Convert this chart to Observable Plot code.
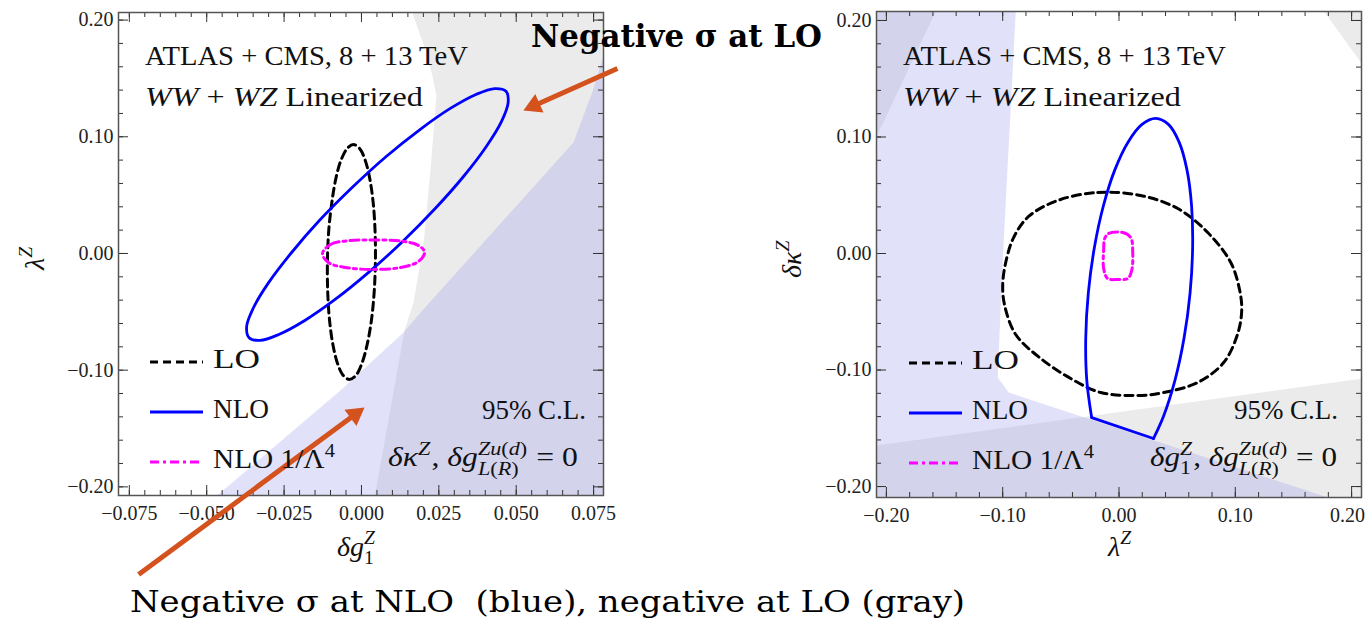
<!DOCTYPE html>
<html><head><meta charset="utf-8">
<script src="https://cdn.jsdelivr.net/npm/d3@7"></script>
<script src="https://cdn.jsdelivr.net/npm/@observablehq/plot@0.6"></script>
<style>
html,body{margin:0;padding:0;background:#fff;}
#wrap{position:relative;width:1367px;height:619px;overflow:hidden;font-family:"Liberation Serif","Times New Roman",serif;}
</style></head><body><div id="wrap"></div>
<script>
// ---------- tick values ----------
const leftXTicks = [-0.075, -0.05, -0.025, 0, 0.025, 0.05, 0.075];
const leftXMinor = d3.range(-0.075, 0.0751, 0.005);
const yTicks = [-0.2, -0.1, 0, 0.1, 0.2];
const yMinor = d3.range(-0.2, 0.2001, 0.02);
const rightXTicks = [-0.2, -0.1, 0, 0.1, 0.2];
const rightXMinor = d3.range(-0.2, 0.2001, 0.02);

// ---------- left panel (x = δg1Z, y = λZ) ----------
const leftGrayRegion = [[0.0146,0.22],[0.0207,0.174],[0.0229,0.1525],[0.0242,0.1354],[0.0223,0.0711],[0.0200,0.0069],[0.0168,-0.042],[0.0139,-0.066],[0.0035,-0.22],[0.09,-0.22],[0.09,0.22]];
const leftBlueRegion = [[-0.0522,-0.22],[-0.0068,-0.1174],[0.0136,-0.0677],[0.0191,-0.0506],[0.0685,0.0951],[0.0749,0.1405],[0.0782,0.1697],[0.09,0.1697],[0.09,-0.22]];
const leftLO = [[-0.0026,0.0934],[-0.0006,0.0900],[0.0012,0.0800],[0.0027,0.0639],[0.0038,0.0431],[0.0044,0.0188],[0.0045,-0.0073],[0.0041,-0.0333],[0.0032,-0.0576],[0.0018,-0.0785],[0.0001,-0.0945],[-0.0018,-0.1045],[-0.0039,-0.1080],[-0.0059,-0.1045],[-0.0077,-0.0945],[-0.0092,-0.0785],[-0.0103,-0.0576],[-0.0109,-0.0333],[-0.0110,-0.0073],[-0.0106,0.0188],[-0.0096,0.0431],[-0.0083,0.0639],[-0.0066,0.0800],[-0.0046,0.0900]];
const leftNLO = [[0.0467,0.1390],[0.0431,0.1413],[0.0370,0.1363],[0.0287,0.1243],[0.0188,0.1060],[0.0079,0.0829],[-0.0031,0.0563],[-0.0136,0.0282],[-0.0227,0.0004],[-0.0300,-0.0250],[-0.0349,-0.0465],[-0.0371,-0.0626],[-0.0363,-0.0722],[-0.0328,-0.0745],[-0.0267,-0.0694],[-0.0183,-0.0574],[-0.0084,-0.0392],[0.0024,-0.0160],[0.0134,0.0105],[0.0239,0.0387],[0.0331,0.0664],[0.0404,0.0919],[0.0453,0.1134],[0.0474,0.1295]];
const leftNLO4 = [[-0.0126,0.0000],[-0.0100,0.0077],[-0.0036,0.0111],[0.0039,0.0116],[0.0126,0.0107],[0.0184,0.0069],[0.0204,0.0009],[0.0184,-0.0069],[0.0126,-0.0120],[0.0039,-0.0137],[-0.0052,-0.0120],[-0.0107,-0.0077]];
const arrows = [
  {x1: 0.0827, y1: 0.1585, x2: 0.0523, y2: 0.1225},
  {x1: -0.0720, y1: -0.2751, x2: 0.0010, y2: -0.1320}
];

// ---------- right panel (x = λZ, y = δκZ) ----------
const rightGrayTL = [[-0.22,0.0757],[-0.1518,0.22],[-0.22,0.22]];
const rightGrayTR = [[0.1674,0.22],[0.22,0.1471],[0.22,0.22]];
const rightGrayBottom = [[-0.22,-0.1664],[0.22,-0.1058],[0.22,-0.22],[-0.22,-0.22]];
const rightBlueRegion = [[-0.0881,0.22],[-0.1000,-0.0060],[-0.1043,-0.1064],[-0.0948,-0.1193],[0.2118,-0.22],[-0.22,-0.22],[-0.22,0.22]];
const rightLO = [[-0.0527,0.0455],[-0.0183,0.0524],[0.0187,0.0498],[0.0505,0.0386],[0.0763,0.0180],[0.0961,-0.0077],[0.1038,-0.0318],[0.1055,-0.0489],[0.1021,-0.0687],[0.0900,-0.0936],[0.0677,-0.1107],[0.0384,-0.1193],[0.0161,-0.1219],[-0.0157,-0.1193],[-0.0415,-0.1073],[-0.0673,-0.0901],[-0.0888,-0.0695],[-0.0983,-0.0446],[-0.1000,-0.0275],[-0.0974,-0.0077],[-0.0906,0.0137],[-0.0777,0.0318]];
const rightNLO = [[0.0296,-0.1588],[0.0382,-0.1398],[0.0481,-0.1088],[0.0559,-0.0727],[0.0611,-0.0339],[0.0633,0.0049],[0.0624,0.0410],[0.0584,0.0720],[0.0516,0.0958],[0.0425,0.1108],[0.0316,0.1159],[0.0198,0.1108],[0.0079,0.0958],[-0.0035,0.0720],[-0.0134,0.0410],[-0.0212,0.0049],[-0.0264,-0.0339],[-0.0286,-0.0727],[-0.0277,-0.1088],[-0.0235,-0.1408]];
const rightNLOEdge = [[-0.0235,-0.1408],[0.0296,-0.1588]];
const rightNLO4 = [[-0.0089,0.0172],[0.0032,0.0180],[0.0101,0.0137],[0.0118,0.0009],[0.0109,-0.0146],[0.0075,-0.0215],[-0.0011,-0.0223],[-0.0097,-0.0215],[-0.0132,-0.0129],[-0.0132,0.0026],[-0.0123,0.0129]];

// ---------- styles ----------
const serif = '"Liberation Serif","Times New Roman",serif';
const GRAY = {fill: "black", fillOpacity: 0.08};
const BLUE = {fill: "rgb(155,155,238)", fillOpacity: 0.3};
const ORANGE = "#d4521e";
const LO_STYLE = {stroke: "black", strokeWidth: 3, strokeDasharray: "8,5"};
const NLO_STYLE = {stroke: "#0000ff", strokeWidth: 2.8};
const NLO4_STYLE = {stroke: "#ff00ff", strokeWidth: 3, strokeDasharray: "9,4,3,4"};
const px = d => d[0], py = d => d[1];
const region = (data, st) => Plot.line(data, {x: px, y: py, curve: "linear-closed", stroke: "none", ...st, clip: true});
const contour = (data, st, curve = "catmull-rom-closed") => Plot.line(data, {x: px, y: py, curve, ...st});

function panel(o) {
  const W = o.width - o.ml - o.mr, H = o.height - o.mt - o.mb;
  const id = d => d, tk = "#333";
  const p = Plot.plot({
    width: o.width, height: o.height,
    marginLeft: o.ml, marginRight: o.mr, marginTop: o.mt, marginBottom: o.mb,
    x: {domain: o.xDomain}, y: {domain: o.yDomain},
    style: {fontFamily: serif, fontSize: "20px", color: "#222", background: "none", overflow: "visible"},
    marks: [
      ...o.marks,
      Plot.tickX(o.xMinor, {x: id, insetTop: H - 5, stroke: tk}),
      Plot.tickX(o.xMajor, {x: id, insetTop: H - 10, stroke: tk}),
      Plot.tickX(o.xMinor, {x: id, insetBottom: H - 5, stroke: tk}),
      Plot.tickX(o.xMajor, {x: id, insetBottom: H - 10, stroke: tk}),
      Plot.tickY(o.yMinor, {y: id, insetRight: W - 5, stroke: tk}),
      Plot.tickY(o.yMajor, {y: id, insetRight: W - 10, stroke: tk}),
      Plot.tickY(o.yMinor, {y: id, insetLeft: W - 5, stroke: tk}),
      Plot.tickY(o.yMajor, {y: id, insetLeft: W - 10, stroke: tk}),
      Plot.frame({stroke: "#555", strokeWidth: 1.5}),
      ...o.xAxes.map(([ticks, dx]) => Plot.axisX(ticks, {anchor: "bottom", tickSize: 0, tickPadding: 10, tickFormat: o.xFmt, label: null, dx})),
      Plot.axisY(o.yMajor, {anchor: "left", tickSize: 0, tickPadding: 5, tickFormat: d3.format(".2f"), label: null}),
      ...(o.over || [])
    ]
  });
  p.style.position = "absolute";
  p.style.left = o.left + "px";
  p.style.top = "0px";
  return p;
}

const wrap = document.getElementById("wrap");

wrap.appendChild(panel({
  left: 0, width: 760, height: 619, ml: 118, mr: 157, mt: 12, mb: 124,
  xDomain: [-0.0785, 0.0782], yDomain: [-0.2074, 0.2065],
  xMajor: leftXTicks, xMinor: leftXMinor, yMajor: yTicks, yMinor: yMinor,
  xAxes: [[leftXTicks, 0]],
  xFmt: d3.format(".3f"),
  marks: [
    region(leftGrayRegion, GRAY),
    region(leftBlueRegion, BLUE),
    contour(leftLO, LO_STYLE),
    contour(leftNLO, NLO_STYLE),
    contour(leftNLO4, NLO4_STYLE)
  ],
  over: [
    Plot.arrow(arrows, {x1: "x1", y1: "y1", x2: "x2", y2: "y2", stroke: ORANGE, strokeWidth: 5, headLength: 0, insetEnd: 11, strokeLinecap: "butt"}),
    Plot.dot([arrows[0]], {x: "x2", y: "y2", symbol: "triangle", r: 7.5, fill: ORANGE, stroke: "none", rotate: -114, dx: 10.7, dy: -4.8}),
    Plot.dot([arrows[1]], {x: "x2", y: "y2", symbol: "triangle", r: 7.5, fill: ORANGE, stroke: "none", rotate: 53.5, dx: -9.4, dy: 6.9})
  ]
}));

wrap.appendChild(panel({
  left: 760, width: 607, height: 619, ml: 116, mr: 6, mt: 11, mb: 122,
  xDomain: [-0.2085, 0.2085], yDomain: [-0.2094, 0.2077],
  xMajor: rightXTicks, xMinor: rightXMinor, yMajor: yTicks, yMinor: yMinor,
  xAxes: [[rightXTicks.slice(0, -1), 0], [rightXTicks.slice(-1), -4]],
  xFmt: d3.format(".2f"),
  marks: [
    region(rightGrayTL, GRAY),
    region(rightGrayTR, GRAY),
    region(rightGrayBottom, GRAY),
    region(rightBlueRegion, BLUE),
    contour(rightLO, LO_STYLE),
    contour(rightNLO, NLO_STYLE, "catmull-rom"),
    contour(rightNLOEdge, NLO_STYLE, "linear"),
    contour(rightNLO4, NLO4_STYLE)
  ]
}));

// ---------- text overlay ----------
const ov = d3.select(wrap).append("svg")
  .attr("width", 1367).attr("height", 619)
  .style("position", "absolute").style("left", "0px").style("top", "0px")
  .style("overflow", "visible")
  .attr("font-family", serif).attr("fill", "#111");

function seg(g, x, y, str, fs, italic) {
  const t = g.append("text").attr("x", x).attr("y", y).attr("font-size", fs)
    .style("white-space", "pre").text(str);
  if (italic) t.attr("font-style", "italic");
  return t.node().getComputedTextLength();
}
function runSegs(g, x, y, segs, fs) {
  let cx = x;
  for (const [s, it] of segs) cx += seg(g, cx, y, s, fs, it);
  return cx - x;
}
function mtext(x, y, pieces, fs = 27, {rot = 0, tw = 0} = {}) {
  const g = ov.append("g");
  let cx = 0;
  for (const p of pieces) {
    if (p.sup || p.sub) {
      const sfs = fs * 0.7;
      const w1 = p.sup ? runSegs(g, cx + (p.shift || 0), -fs * 0.42, p.sup, sfs) + (p.shift || 0) : 0;
      const w2 = p.sub ? runSegs(g, cx, fs * (p.drop || 0.25), p.sub, sfs) : 0;
      cx += Math.max(w1, w2) + 1;
    } else {
      cx += runSegs(g, cx, 0, [[p.t, p.i]], fs);
    }
  }
  const sx = tw ? tw / cx : 1;
  g.attr("transform", `translate(${x},${y})` + (rot ? ` rotate(${rot})` : "") + (sx !== 1 ? ` scale(${sx},1)` : ""));
  return g;
}

// headers
for (const x0 of [145, 903]) {
  mtext(x0, 65, [{t: "ATLAS + CMS, 8 + 13 TeV"}], 28, {tw: 323});
  mtext(x0, 106, [{t: "WW", i: 1}, {t: " + "}, {t: "WZ", i: 1}, {t: " Linearized"}], 28, {tw: 278});
}

// legends
function legend(x0, yLine, yText) {
  [LO_STYLE, NLO_STYLE, NLO4_STYLE].forEach((l, i) => {
    ov.append("line").attr("x1", x0).attr("x2", x0 + 53)
      .attr("y1", yLine + i * 50).attr("y2", yLine + i * 50)
      .attr("stroke", l.stroke).attr("stroke-width", l.strokeWidth).attr("stroke-dasharray", l.strokeDasharray || null);
  });
  mtext(x0 + 63, yText, [{t: "LO"}], 27, {tw: 47});
  mtext(x0 + 63, yText + 50, [{t: "NLO"}], 27, {tw: 56});
  mtext(x0 + 63, yText + 100, [{t: "NLO 1/Λ"}, {sup: [["4", 0]]}], 27, {tw: 123});
}
legend(150, 362, 368);
legend(909, 363, 369);

// C.L. labels
mtext(482, 419, [{t: "95% C.L."}], 27, {tw: 104});
mtext(1234, 419, [{t: "95% C.L."}], 27, {tw: 104});

mtext(388, 466, [
  {t: "δκ", i: 1}, {sup: [["Z", 1]]}, {t: ", "}, {t: "δg", i: 1},
  {sup: [["Zu", 1], ["(", 0], ["d", 1], [")", 0]], sub: [["L", 1], ["(", 0], ["R", 1], [")", 0]], drop: 0.33},
  {t: " = 0"}
], 27, {tw: 190});
mtext(1150, 466, [
  {t: "δg", i: 1}, {sup: [["Z", 1]], sub: [["1", 0]], drop: 0.3}, {t: ", "}, {t: "δg", i: 1},
  {sup: [["Zu", 1], ["(", 0], ["d", 1], [")", 0]], sub: [["L", 1], ["(", 0], ["R", 1], [")", 0]], drop: 0.33},
  {t: " = 0"}
], 27, {tw: 187});

// axis titles
mtext(44, 270, [{t: "λ", i: 1}, {sup: [["Z", 1]]}], 28, {rot: -90});
mtext(801, 278, [{t: "δκ", i: 1}, {sup: [["Z", 1]]}], 28, {rot: -90});
mtext(337, 556, [{t: "δg", i: 1}, {sup: [["Z", 1]], sub: [["1", 0]], drop: 0.3}], 28);
mtext(1108, 556, [{t: "λ", i: 1}, {sup: [["Z", 1]]}], 28);

// annotations
ov.append("text").attr("x", 531).attr("y", 47)
  .attr("font-family", '"DejaVu Serif",serif').attr("font-weight", "bold").attr("font-size", 32)
  .attr("textLength", 291).attr("lengthAdjust", "spacingAndGlyphs").attr("fill", "#000")
  .text("Negative σ at LO");
ov.append("text").attr("x", 130).attr("y", 612)
  .attr("font-family", '"DejaVu Serif",serif').attr("font-size", 30)
  .attr("textLength", 835).attr("lengthAdjust", "spacingAndGlyphs").attr("fill", "#000")
  .style("white-space", "pre")
  .text("Negative σ at NLO  (blue), negative at LO (gray)");
</script></body></html>
